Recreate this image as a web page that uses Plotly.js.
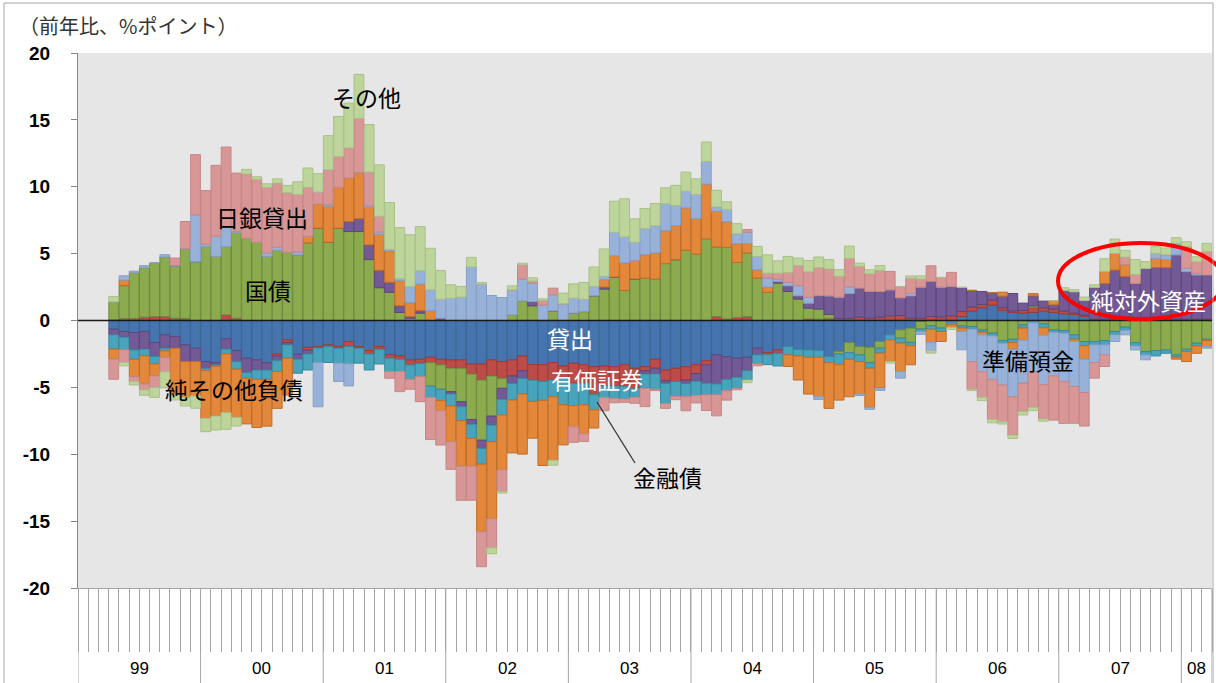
<!DOCTYPE html>
<html><head><meta charset="utf-8">
<script src="https://cdn.plot.ly/plotly-3.0.1.min.js"></script>
<style>html,body{margin:0;padding:0;background:#fff}#chart{width:1216px;height:683px}</style>
</head><body><div id="chart"></div>
<script>
// Category axis: every month from 1999/01 to 2008/03 (data start 1999/04)
const allMonths = [];
for (let y = 1999; y <= 2008; y++) {
  for (let m = 1; m <= 12; m++) {
    if (y === 2008 && m > 3) break;
    allMonths.push(y + '-' + String(m).padStart(2, '0'));
  }
}
const months = allMonths.slice(3); // 1999-04 .. 2008-03 (108 bars)
const yearLabels = ['99','00','01','02','03','04','05','06','07','08'];
const yTickVals = [20, 15, 10, 5, 0, -5, -10, -15, -20];
const yTickText = ['20','15','10','5','0','-5','-10','-15','-20'];

// Contributions (y/y, % points). Rows: 1999(Apr-Dec), 2000, ..., 2008(Jan-Mar)
const loans = [
 -0.65,-0.82,-0.9,-0.82,-1.65,-1.07,-1.2,-1.82,-2.07,
 -3.07,-3.15,-1.37,-2.25,-2.82,-2.95,-3.15,-2.5,-1.45,-2.52,-2.0,-1.95,
 -1.82,-1.95,-1.57,-1.95,-2.25,-1.95,-2.57,-2.65,-2.95,-2.9,-2.75,-2.9,
 -2.95,-2.95,-3.25,-3.25,-2.95,-3.07,-2.95,-2.65,-3.3,-3.3,-3.15,-3.4,
 -3.2,-3.3,-3.45,-3.4,-3.45,-3.3,-3.57,-3.45,-2.9,-3.7,-3.57,-3.45,
 -3.3,-3.0,-2.57,-2.7,-2.82,-2.75,-2.07,-2.4,-2.2,-1.95,-2.15,-2.2,
 -2.25,-2.7,-2.3,-1.65,-1.95,-2.0,-1.57,-1.07,-0.7,-0.57,-0.07,0,
 0,0,0.3,0.7,0.95,1.15,0.75,0.6,0.55,0.6,0.7,0.6,
 0.5,0.45,0.3,0,0,0,0,0,0,0,0,0,
 0,0,0];
const securities = [
 0.05,0.15,0.15,0.25,0.3,0.3,0.17,0.15,0,
 0,0,0.42,0.17,0,0,0,-0.15,-0.2,0,-0.2,-0.1,
 -0.12,-0.12,-0.37,-0.12,-0.25,-0.2,-0.25,-0.25,-0.37,-0.3,-0.4,-0.42,
 -0.62,-0.62,-0.75,-1.2,-1.2,-1.25,-1.2,-1.1,-1.15,-1.25,-1.3,-0.9,
 -1.5,-1.4,-2.1,-1.5,-1.45,-1.62,-1.5,-0.3,-0.67,-0.8,-1.0,-1.0,
 -0.67,-0.32,0.3,0.12,0.22,0.3,0,-0.15,-0.25,0,0,0.12,
 0.1,0.15,0.15,0.15,0.25,0.17,0.25,0.35,0.37,0.17,0.17,0.3,
 0.25,0.35,0.37,0.3,0.25,0.37,0.2,0.12,0.2,0.37,0.25,0.25,
 0.2,0.12,0.1,0.1,0.1,0.1,0.1,0.1,0.1,0.1,0.1,0.1,
 0.1,0.1,0.1];
const jgb = [
 1.35,2.45,3.42,3.7,4.0,4.45,3.9,5.2,4.4,
 5.55,4.8,5.1,6.4,6.15,5.85,4.8,5.25,5.1,4.9,5.8,6.9,
 5.85,6.9,6.65,6.65,4.55,2.45,2.1,0.6,0.17,0.55,-1.75,-1.82,
 -1.75,-2.5,-3.4,-4.5,-3.0,-0.75,0.42,1.47,1.1,0,0.72,0,
 0.55,0.67,1.85,2.35,3.25,2.25,3.1,3.17,3.1,4.25,4.55,5.25,
 4.97,6.1,5.2,5.35,4.12,4.75,3.17,2.1,2.8,2.17,1.6,0.8,
 0.75,0.3,-0.2,-0.75,-0.62,-1.15,-0.5,0,-0.62,-1.07,-0.57,-0.4,
 -0.57,-0.12,-0.4,-0.45,-0.7,-0.95,-1.5,-1.4,-0.32,0.12,-0.25,-0.7,
 -0.75,-1.07,-1.57,-1.57,-1.5,-0.82,-0.5,-1.65,-2.32,-2.25,-2.2,-2.57,
 -2.15,-1.7,-1.4];
const netForeign = [
 -0.42,-0.42,-1.3,-1.32,-1.05,-1.0,-0.87,-1.25,-1.0,
 -0.5,-0.17,-0.77,-0.82,-1.07,-0.75,-0.55,-0.35,-0.17,-0.37,-0.3,0,
 0,0,0.75,0.95,1.1,1.3,0.75,0.5,0.12,0.2,0,0.17,
 -0.17,-0.37,-0.35,-0.62,-0.67,-0.82,-0.55,-0.57,0.32,0,0,0,
 0,0,0,0.15,0,0,0,-0.25,-0.42,-0.2,0,-0.25,
 -0.57,-1.37,-2.17,-1.7,-1.42,-1.0,-0.5,0,0.12,0.42,0.25,0.37,
 1.0,1.4,1.6,1.87,2.17,2.0,1.92,1.95,1.32,1.67,2.32,2.62,
 2.25,2.2,1.8,1.25,0.97,0.55,0.87,1.3,0.55,0.75,0.5,0.32,
 1.55,1.57,1.1,2.37,2.65,3.67,3.2,2.67,3.8,3.85,3.85,4.8,
 3.55,3.3,3.3];
const finBonds = [
 -1.07,-0.95,-0.7,-0.5,-0.55,-0.2,0,0,0,
 -0.17,-0.12,-0.35,-0.57,-0.42,-0.7,-0.7,-0.82,-1.0,-1.05,-1.2,-1.1,
 -1.2,-1.12,-1.3,-1.12,-1.2,-1.1,-1.0,-0.92,-1.07,-1.0,-0.85,-0.85,
 -0.9,-1.05,-1.07,-1.17,-1.25,-1.17,-1.25,-1.17,-1.6,-1.42,-1.25,-2.0,
 -1.67,-1.6,-1.12,-0.85,-0.92,-0.95,-0.67,-1.07,-1.15,-1.5,-1.1,-1.0,
 -1.07,-0.87,-0.82,-0.85,-0.82,-0.7,-0.67,-0.75,-0.95,-0.62,-0.5,-0.55,
 -0.5,-0.45,-0.8,-0.5,-0.5,-0.42,-0.37,-0.37,-0.37,-0.25,-0.2,-0.25,
 -0.25,-0.2,-0.17,-0.2,-0.17,-0.2,-0.2,-0.25,-0.25,-0.17,-0.3,-0.2,
 -0.2,-0.32,-0.32,-0.25,-0.32,-0.25,-0.25,-0.25,-0.25,-0.4,-0.25,-0.17,
 -0.17,-0.2,-0.1];
const otherLiab = [
 -0.75,0.42,-1.3,-2.1,-0.9,-0.5,-3.5,-2.67,-2.57,
 -3.57,-3.7,-4.4,-3.6,-3.42,-3.6,-3.5,-2.75,-2.75,0,0.5,1.8,
 2.7,3.05,3.25,3.45,2.8,2.7,2.35,1.87,1.05,1.97,0.75,-0.75,
 -2.67,-3.4,-2.07,-5.05,-5.75,-4.1,-3.95,-4.5,-2.75,-4.87,-4.75,-3.0,
 -1.57,-2.15,-1.37,0.55,1.6,2.05,1.4,1.75,1.95,2.47,2.55,3.17,
 2.65,4.1,2.67,1.92,1.4,0.7,0.62,0.4,0,-0.87,-1.8,-2.75,
 -2.95,-3.42,-2.65,-2.8,-2.42,-2.92,-2.62,-1.62,-2.12,-1.42,0,-1.0,
 -0.75,-0.2,-0.25,0,-0.2,0,0.3,-0.5,-0.92,0.17,-0.57,0.3,
 0,-0.17,-1.0,0,0.92,1.25,0.87,0,0,0.7,0.6,-0.15,
 -0.75,-0.55,-0.45];
const reserves = [
 0,0.32,0.12,0.15,0,0.17,0.05,0,3.5,
 0.17,1.5,1.45,0.1,0,0,0.25,0.22,0,0.22,0,-3.3,
 0.12,-1.37,-1.65,0,0.1,0.17,0.12,0.17,1.2,1.0,1.55,1.42,
 1.67,1.75,4.0,2.72,1.87,1.72,1.87,1.62,1.37,1.15,1.2,1.25,
 1.12,0.92,0.7,0.25,1.75,1.95,1.35,1.95,2.05,2.0,1.5,1.25,
 1.8,1.7,0.32,0.92,0.75,0.85,1.0,0.67,0.17,0.25,0.75,0.45,
 -0.2,0,0,0.5,-0.12,-0.15,-0.17,0,-0.5,0.2,-0.2,-0.62,
 0,0,-1.37,-2.42,-2.75,-3.25,-3.12,-3.55,-3.2,-3.7,-3.67,-3.25,
 -3.62,-3.37,-2.5,-1.32,-0.75,-0.5,-0.32,-0.3,-0.37,0.37,0.37,0.87,
 0.25,0.12,-0.12];
const bojLending = [
 -1.5,-0.95,-0.37,-0.45,-0.85,-1.07,0.55,2.05,4.5,
 4.0,5.3,6.0,4.35,4.8,4.7,4.9,4.8,4.45,4.3,3.65,0.9,
 2.6,2.3,2.25,4.05,2.55,1.17,-0.5,-1.5,-0.75,-1.87,-3.15,-2.57,
 -2.07,-2.55,-2.55,-2.62,-2.17,-1.62,0,1.07,0.15,0.35,0.5,0,
 -1.17,-0.6,0,-1.0,-0.33,-0.25,-0.45,-1.37,-0.1,-0.37,-0.25,-1.05,
 -0.55,-1.17,-1.57,-0.7,-0.12,0.2,-0.15,0.37,0.45,0.75,1.5,1.9,
 2.1,2.0,1.55,2.12,1.62,1.32,1.57,1.37,0.85,1.12,0.6,1.17,
 0.72,1.05,0,-2.07,-1.92,-3.0,-2.75,-2.87,-2.12,-2.62,-2.57,-3.3,
 -3.12,-2.75,-2.5,-1.17,-0.87,0,0.57,0.67,0,0,0,0,
 1.62,0.87,1.75];
const others = [
 0.4,-0.25,-0.25,-0.4,-0.75,-1.2,-0.37,-0.65,-0.92,
 -1.0,-1.05,-1.25,-0.65,0.35,0.2,0.27,0.32,0.55,0.95,1.45,1.37,
 2.55,3.0,3.35,3.3,3.55,3.85,3.5,3.8,3.87,3.3,3.1,2.15,
 1.0,0.8,0.72,0.12,-0.45,-0.12,0.3,0.12,0.25,0.12,-0.37,0.8,
 1.07,1.25,1.45,2.05,2.32,2.85,1.75,1.5,1.65,1.2,1.5,1.42,
 1.17,1.45,1.25,0.57,0.75,-0.2,0.75,1.37,0.92,1.2,0.57,0.85,
 0.8,0.7,0.5,0.92,0.25,0.3,0.37,-0.12,0,0.17,0.25,-0.17,
 0,-0.15,0,-0.1,-0.25,-0.25,-0.17,-0.25,-0.25,-0.25,-0.17,0,
 0.2,0.17,0.25,0.2,0.95,1.07,0.5,1.12,0.5,0.5,0.5,0.42,
 0.37,0.37,0.62];

const seriesNames = ['貸出','有価証券','国債','純対外資産','金融債','純その他負債','準備預金','日銀貸出','その他'];
const seriesData = [loans, securities, jgb, netForeign, finBonds, otherLiab, reserves, bojLending, others];
const fills = ['#4674AE','#BD4B48','#8CAB4F','#735995','#48A4BD','#E3873A','#97B1D8','#D89696','#BDD59B'];
const edges = ['#3A6495','#9C3A38','#6E8A3B','#5D477A','#3A879B','#BF6D27','#889FC3','#C48787','#A9C088'];

const traces = seriesData.map((vals, i) => ({
  type: 'bar', name: seriesNames[i], x: months, y: vals,
  marker: {color: fills[i], line: {color: edges[i], width: 1}},
  hoverinfo: 'x+y+name'
}));

// pixel helpers for layout decorations (plot area 78..1212 x 53..588)
const L = 78, R = 1212, T = 53, B = 588;
const px = v => (v - L) / (R - L);
const py = v => (B - v) / (B - T);

const shapes = [];
for (let n = 0; n <= 9; n++) {
  shapes.push({type:'line', xref:'x', yref:'paper', x0: n*12 - 0.5, x1: n*12 - 0.5, y0: 0, y1: py(690),
    line:{color:'#A6A6A6', width:1}});
}
shapes.push({type:'line', xref:'x', yref:'paper', x0: allMonths.length - 0.5, x1: allMonths.length - 0.5, y0: 0, y1: py(690), line:{color:'#A6A6A6', width:1}});
shapes.push({type:'line', xref:'paper', yref:'y', x0:0, x1:1, y0:0, y1:0, layer:'above', line:{color:'#1a1a1a', width:1.6}});
shapes.push({type:'circle', xref:'paper', yref:'paper', x0: px(1058), x1: px(1224), y0: py(243), y1: py(319), layer:'above', line:{color:'#FF0000', width:4}});
shapes.push({type:'line', xref:'paper', yref:'paper', x0: px(597), y0: py(402), x1: px(635), y1: py(463), layer:'above', line:{color:'#333', width:1.3}});
shapes.push({type:'rect', xref:'paper', yref:'paper', x0: px(4), x1: px(1213), y0: py(3), y1: py(700), line:{color:'#A6A6A6', width:1}, fillcolor:'rgba(0,0,0,0)'});

const jp = 'Noto Sans CJK JP';
const ann = (text, x, y, color, size) => ({text, xref:'paper', yref:'paper', x: px(x), y: py(y), xanchor:'center', yanchor:'middle', showarrow:false, font:{family: jp, size: size || 23, color}});
const annotations = [
  {text:'（前年比、%ポイント）', xref:'paper', yref:'paper', x: px(17), y: py(25), xanchor:'left', yanchor:'middle', showarrow:false, font:{family: jp, size:20, color:'#333'}},
  ann('その他', 366, 97, '#000'),
  ann('日銀貸出', 262, 217, '#000'),
  ann('国債', 268, 290, '#000'),
  ann('貸出', 570, 338, '#fff'),
  ann('有価証券', 597, 379, '#fff'),
  ann('純その他負債', 234, 389, '#000'),
  ann('金融債', 667, 477, '#000'),
  ann('準備預金', 1028, 360, '#000'),
  ann('純対外資産', 1148, 300, '#fff')
];
for (let n = 0; n < yearLabels.length; n++) {
  const start = n * 12, end = Math.min(n * 12 + 11, allMonths.length - 1);
  annotations.push({text: yearLabels[n], xref:'x', yref:'paper', x: (start + end) / 2, y: py(668), xanchor:'center', yanchor:'middle', showarrow:false, font:{family:'Liberation Sans, Arial, sans-serif', size:17, color:'#000'}});
}

const layout = {
  width: 1216, height: 683,
  margin: {l: L, r: 1216 - R, t: T, b: 683 - B, pad: 0},
  paper_bgcolor: '#FFFFFF', plot_bgcolor: '#E6E6E6',
  barmode: 'relative', bargap: 0.04, showlegend: false,
  font: {family: 'Liberation Sans, Arial, sans-serif', color: '#000'},
  xaxis: {type:'category', categoryorder:'array', categoryarray: allMonths,
    range: [-0.5, allMonths.length - 0.5], tickmode:'linear', tick0: 0, dtick: 1,
    tickson:'boundaries', ticks:'outside', ticklen: 63, tickcolor:'#A6A6A6', tickwidth: 1,
    showticklabels:false, showgrid:false, zeroline:false, showline:true, linecolor:'#A6A6A6', linewidth:1},
  yaxis: {range:[-20, 20], tickmode:'array', tickvals: yTickVals, ticktext: yTickText, ticks:'outside', ticklen:6,
    tickcolor:'#868686', showline:true, linecolor:'#868686', linewidth:1, showgrid:false, zeroline:false,
    tickfont:{size:19, color:'#000', family:'Liberation Sans, Arial, sans-serif', weight: 'bold'}, ticklabelstandoff: 17},
  shapes, annotations
};

Plotly.newPlot('chart', traces, layout, {displayModeBar:false, staticPlot:true});
</script>
</body></html>
